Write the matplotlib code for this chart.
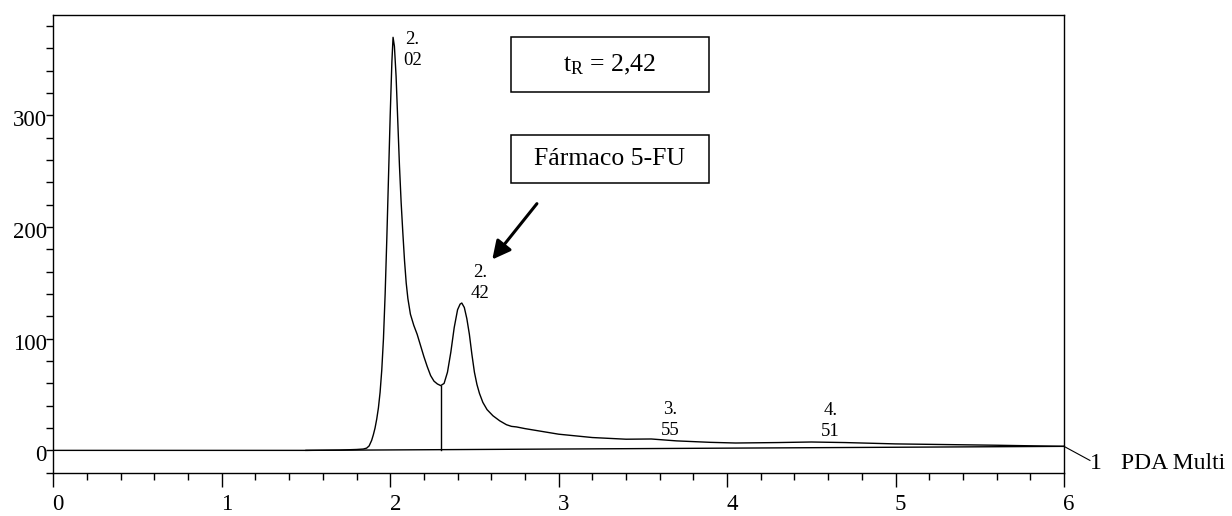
import numpy as np
import matplotlib
matplotlib.use("Agg")
import matplotlib.pyplot as plt
from matplotlib.patches import Rectangle
from matplotlib.transforms import ScaledTranslation

plt.rcParams['font.family'] = ['Liberation Serif', 'DejaVu Serif']
plt.rcParams['mathtext.fontset'] = 'custom'
plt.rcParams['mathtext.rm'] = 'Liberation Serif'
plt.rcParams['mathtext.it'] = 'Liberation Serif:italic'

# retention time (min) and detector response (mAU), PDA channel 1
t_min = [0.0, 1.5, 1.7, 1.80, 1.84, 1.86, 1.875, 1.89, 1.90, 1.91, 1.92, 1.93,
         1.94, 1.95, 1.96, 1.97, 1.98, 1.99, 2.00, 2.01, 2.017, 2.025, 2.035,
         2.045, 2.055, 2.065, 2.075, 2.085, 2.095, 2.105, 2.12, 2.14, 2.16,
         2.18, 2.20, 2.22, 2.24, 2.26, 2.28, 2.30, 2.32, 2.34, 2.36, 2.38,
         2.40, 2.415, 2.425, 2.44, 2.455, 2.47, 2.485, 2.50, 2.515, 2.53,
         2.55, 2.575, 2.61, 2.65, 2.69, 2.72, 2.75, 2.8, 2.9, 3.0, 3.2, 3.4,
         3.55, 3.7, 3.9, 4.05, 4.3, 4.5, 4.7, 5.0, 5.3, 5.6, 6.0]
mau = [0.0, 0.0, 0.3, 0.8, 1.2, 2.0, 4.0, 9.0, 14.0, 20.0, 28.0, 38.0,
       52.0, 72.0, 100.0, 140.0, 190.0, 245.0, 300.0, 348.0, 370.0, 362.0, 335.0,
       295.0, 255.0, 222.0, 195.0, 170.0, 150.0, 136.0, 122.0, 112.0, 104.0,
       94.0, 84.0, 75.0, 67.0, 62.0, 59.5, 58.0, 60.0, 70.0, 88.0, 110.0,
       126.0, 131.0, 132.0, 128.0, 118.0, 104.0, 86.0, 70.0, 59.0, 51.0,
       43.0, 36.5, 31.0, 26.5, 23.0, 21.5, 21.0, 19.5, 17.0, 14.5, 11.5, 10.0,
       10.2, 8.5, 7.2, 6.6, 7.0, 7.5, 7.0, 5.8, 5.2, 4.6, 3.6]

# integration baseline and peak split
base_t = [1.5, 6.0]
base_y = [0.0, 3.6]
split_t = 2.30
split_y = 58.0

# peak labels: retention time, label x, label y
peak_labels = ["2.\n02", "2.\n42", "3.\n55", "4.\n51"]
label_x = [2.131, 2.536, 3.661, 4.614]
label_y = [359, 150, 27, 26]

fig = plt.figure(figsize=(12.32, 5.16), dpi=100)
ax = fig.add_axes([0.04326, 0.08391, 0.82037, 0.88702])

ax.plot(t_min, mau, color="black", lw=1.0)
ax.plot(base_t, base_y, color="black", lw=1.0)
base_at_split = np.interp(split_t, base_t, base_y)
ax.plot([split_t, split_t], [base_at_split, split_y], color="black", lw=1.0)

for lab, lx, ly in zip(peak_labels, label_x, label_y):
    ax.text(lx, ly, lab, ha="center", va="center", multialignment="center",
            fontsize=13.5, linespacing=1.3)

ax.set_xlim(0, 6)
ax.set_ylim(-20, 390)
ax.set_xticks(np.arange(0, 7, 1))
ax.set_xticks(np.arange(0, 6.01, 0.2), minor=True)
ax.set_yticks([0, 100, 200, 300])
ax.set_yticks(np.arange(-20, 390, 20), minor=True)
ax.tick_params(axis="x", which="major", direction="out", length=10, width=1.0,
               labelsize=16.5, pad=5.5)
ax.tick_params(axis="x", which="minor", direction="out", length=5.3, width=1.0)
ax.tick_params(axis="y", which="both", direction="out", length=4.8, width=1.0,
               labelsize=16.5, pad=0)
offset = ScaledTranslation(5 / 100, 0, fig.dpi_scale_trans)
for lbl in ax.get_xticklabels():
    lbl.set_transform(lbl.get_transform() + offset)
yoff = ScaledTranslation(0, -3 / 100, fig.dpi_scale_trans)
for lbl in ax.get_yticklabels():
    lbl.set_transform(lbl.get_transform() + yoff)
for sp in ax.spines.values():
    sp.set_linewidth(1.0)

# channel tag on the right
ax.plot([6.0, 6.154], [3.6, -9], color="black", lw=0.8, clip_on=False)
ax.text(6.19, -12, "1", fontsize=17, ha="center", va="center")
ax.text(6.34, -12, "PDA Multi", fontsize=17, ha="left", va="center")

# arrow to the drug peak
ax.annotate("", xy=(2.606, 171), xytext=(2.871, 221),
            arrowprops=dict(arrowstyle="-|>,head_length=0.55,head_width=0.28",
                            mutation_scale=20, lw=2.2, color="black",
                            shrinkA=0, shrinkB=0))

# boxed notes
fig.patches.append(Rectangle((0.4148, 0.8223), 0.1607, 0.1054, transform=fig.transFigure,
                             fill=False, edgecolor="black", lw=1.1))
fig.patches.append(Rectangle((0.4148, 0.6459), 0.1607, 0.0924, transform=fig.transFigure,
                             fill=False, edgecolor="black", lw=1.1))
fig.text(0.4948, 0.875, r"t$_\mathrm{R}$ = 2,42", fontsize=18.5, ha="center", va="center")
fig.text(0.4948, 0.692, "Fármaco 5-FU", fontsize=18.5, ha="center", va="center")

fig.savefig("out.png", dpi=100)
